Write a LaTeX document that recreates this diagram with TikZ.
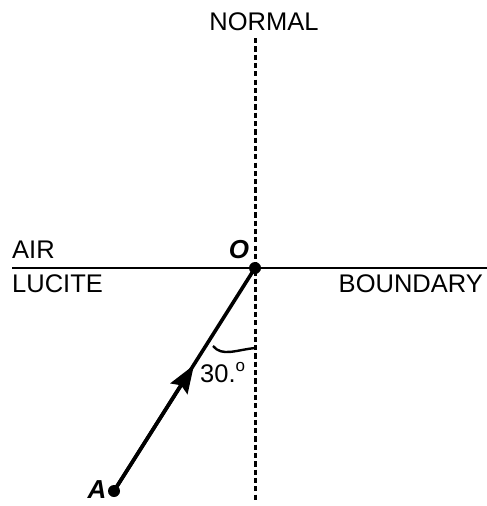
\documentclass[tikz,border=0pt]{standalone}
\usepackage{fontspec}
\setmainfont{Liberation Sans}
\usetikzlibrary{arrows.meta}
\begin{document}
\begin{tikzpicture}[x=1pt,y=-1pt,
  lbl/.style={inner sep=0pt,font=\fontsize{25.5}{25.5}\selectfont},
  pt/.style={inner sep=0pt,font=\fontsize{26}{26}\selectfont\bfseries\itshape},
  dotnode/.style={circle,fill=black,inner sep=0pt,minimum size=12pt},
  normalline/.style={line width=3pt,dash pattern=on 5.2pt off 3.1pt},
  boundline/.style={line width=2.6pt},
  rayline/.style={line width=3.6pt},
  headtip/.style={-{Stealth[length=28pt,width=20pt,inset=4pt]}}]
\useasboundingbox (0,0) rectangle (487,506);
% coordinates
\coordinate (Ntop) at (255,38);
\coordinate (Nbot) at (255,501);
\coordinate (Bleft) at (12,268);
\coordinate (Bright) at (487,268);
\coordinate (mid) at (194,365);
\node[dotnode] (O) at (255,268) {};
\node[dotnode] (A) at (114,491) {};
% lines
\draw[normalline] (Ntop) -- (Nbot);
\draw[boundline] (Bleft) -- (Bright);
\draw[rayline] (A.center) -- (O.center);
\draw[rayline,headtip] (A.center) -- (mid);
% angle mark
\coordinate (m1) at (213,346);
\coordinate (m2) at (255,348);
\draw[line width=2.4pt] (m1) .. controls (222,357) and (236,350) .. (m2);
% labels
\node[lbl] (normal) at (264,22) {NORMAL};
\node[lbl,anchor=base west] (air) at (12,258) {AIR};
\node[lbl,anchor=base west] (lucite) at (12,292) {LUCITE};
\node[lbl,anchor=base east] (boundary) at (483,292) {BOUNDARY};
\node[pt,anchor=base] (olbl) at (239,258) {O};
\node[pt,anchor=base] (albl) at (97,498) {A};
\node[lbl,anchor=base west] (ang) at (200,382) {30.\raisebox{0.42em}{\fontsize{17}{17}\selectfont o}};
\end{tikzpicture}
\end{document}
